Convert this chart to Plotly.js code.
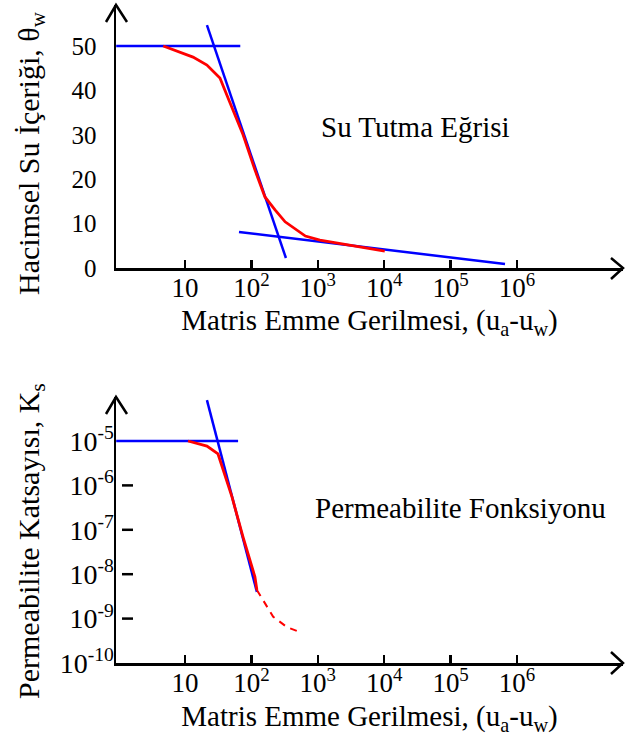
<!DOCTYPE html>
<html>
<head>
<meta charset="utf-8">
<script src="https://cdn.plot.ly/plotly-3.0.1.min.js"></script>
<style>html,body{margin:0;padding:0;background:#fff}#chart{width:625px;height:736px}</style>
</head>
<body>
<div id="chart"></div>
<script>
// ---- Data ----
// Top panel: Su Tutma Eğrisi (water retention curve)
const swccSuction = [4.7, 13.2, 21.4, 33.6, 47.6, 74.9, 113, 160, 227, 322, 650, 1075, 10200];
const swccTheta   = [50, 47.5, 45.7, 42.8, 37.2, 30.0, 22.1, 16.0, 13.1, 10.4, 7.2, 6.3, 3.8];
const swccFlatX   = [0.92, 68];
const swccFlatY   = [50, 50];
const swccSteepX  = [21.4, 331];
const swccSteepY  = [54.7, 2.25];
const swccResX    = [65, 660000];
const swccResY    = [8.1, 0.9];

// Bottom panel: Permeabilite Fonksiyonu
const permSuction     = [11.1, 21.4, 31.4, 51, 74.7, 113, 121];
const permK           = [1e-5, 7.7e-6, 5.1e-6, 5.5e-7, 6.9e-8, 8.7e-9, 4.4e-9];
const permDashSuction = [121, 135, 213, 345, 576];
const permDashK       = [4.4e-9, 3.4e-9, 1.1e-9, 6.4e-10, 4.8e-10];
const permFlatX       = [0.92, 63];
const permFlatY       = [1e-5, 1e-5];
const permSteepX      = [21.4, 121];
const permSteepY      = [8.3e-5, 4.0e-9];

// Tick labels
const xTickVals  = [10, 100, 1000, 10000, 100000, 1000000];
const xTickText  = ['10', '10<sup>2</sup>', '10<sup>3</sup>', '10<sup>4</sup>', '10<sup>5</sup>', '10<sup>6</sup>'];
const thetaTicks = [0, 10, 20, 30, 40, 50];
const kTickVals  = [1e-10, 1e-9, 1e-8, 1e-7, 1e-6, 1e-5];
const kTickText  = ['10<sup>-10</sup>', '10<sup>-9</sup>', '10<sup>-8</sup>', '10<sup>-7</sup>', '10<sup>-6</sup>', '10<sup>-5</sup>'];
const kDashTicks = [1e-9, 1e-8, 1e-7, 1e-6];

// ---- Styling ----
const W = 625, H = 736;
const FONT = 'Liberation Serif, Times New Roman, serif';
const RED = '#ff0000', BLUE = '#0000ff';
const px = v => v / W, py = v => 1 - v / H;

const traces = [
  {x: swccFlatX, y: swccFlatY, xaxis: 'x', yaxis: 'y', mode: 'lines', line: {color: BLUE, width: 2.5}},
  {x: swccSteepX, y: swccSteepY, xaxis: 'x', yaxis: 'y', mode: 'lines', line: {color: BLUE, width: 2.5}},
  {x: swccResX, y: swccResY, xaxis: 'x', yaxis: 'y', mode: 'lines', line: {color: BLUE, width: 2.5}},
  {x: swccSuction, y: swccTheta, xaxis: 'x', yaxis: 'y', mode: 'lines', line: {color: RED, width: 2.8}},
  {x: permFlatX, y: permFlatY, xaxis: 'x2', yaxis: 'y2', mode: 'lines', line: {color: BLUE, width: 2.5}},
  {x: permSteepX, y: permSteepY, xaxis: 'x2', yaxis: 'y2', mode: 'lines', line: {color: BLUE, width: 2.5}},
  {x: permSuction, y: permK, xaxis: 'x2', yaxis: 'y2', mode: 'lines', line: {color: RED, width: 2.8}},
  {x: permDashSuction, y: permDashK, xaxis: 'x2', yaxis: 'y2', mode: 'lines', line: {color: RED, width: 2, dash: '7px,6px'}}
];

const xDomain = [px(116), px(623)];
const xRange = [(116 - 185) / 66.4 + 1, (623 - 185) / 66.4 + 1];

function xAxis(anchor, titleStandoff) {
  return {
    type: 'log', domain: xDomain, range: xRange, anchor: anchor,
    showgrid: false, zeroline: false, showline: true, linecolor: '#000', linewidth: 2.5,
    ticks: 'inside', ticklen: 8, tickwidth: 2.5, tickcolor: '#000',
    tickvals: xTickVals, ticktext: xTickText,
    tickfont: {family: FONT, size: 27, color: '#000'}, ticklabelstandoff: -6,
    title: {text: 'Matris Emme Gerilmesi, (u<sub>a</sub>-u<sub>w</sub>)', font: {family: FONT, size: 29, color: '#000'}, standoff: titleStandoff},
    fixedrange: true
  };
}

const layout = {
  width: W, height: H, margin: {l: 0, r: 0, t: 0, b: 0},
  paper_bgcolor: '#fff', plot_bgcolor: 'rgba(0,0,0,0)',
  showlegend: false,
  xaxis: xAxis('y', 8),
  xaxis2: xAxis('y2', 11),
  yaxis: {
    domain: [py(268), py(5)], range: [0, (268 - 5) / 4.44], anchor: 'x',
    showgrid: false, zeroline: false, showline: true, linecolor: '#000', linewidth: 2.5,
    ticks: '', tickvals: thetaTicks, ticktext: thetaTicks.map(String),
    tickfont: {family: FONT, size: 25, color: '#000'}, ticklabelstandoff: 12,
    fixedrange: true
  },
  yaxis2: {
    type: 'log', domain: [py(663), py(397)], range: [-10, -10 + (663 - 397) / 44.4], anchor: 'x2',
    showgrid: false, zeroline: false, showline: true, linecolor: '#000', linewidth: 2.5,
    ticks: '', tickvals: kTickVals, ticktext: kTickText,
    tickfont: {family: FONT, size: 28, color: '#000'}, ticklabelstandoff: -6,
    fixedrange: true
  },
  annotations: [
    {text: 'Hacimsel Su İçeriği, θ<sub>w</sub>', xref: 'paper', yref: 'paper', x: px(31), y: py(153),
     xanchor: 'center', yanchor: 'middle', textangle: -90, showarrow: false,
     font: {family: FONT, size: 30, color: '#000'}},
    {text: 'Permeabilite Katsayısı, K<sub>s</sub>', xref: 'paper', yref: 'paper', x: px(31), y: py(541),
     xanchor: 'center', yanchor: 'middle', textangle: -90, showarrow: false,
     font: {family: FONT, size: 30, color: '#000'}},
    {text: 'Su Tutma Eğrisi', xref: 'paper', yref: 'paper', x: px(415), y: py(127),
     xanchor: 'center', yanchor: 'middle', showarrow: false,
     font: {family: FONT, size: 29, color: '#000'}},
    {text: 'Permeabilite Fonksiyonu', xref: 'paper', yref: 'paper', x: px(460), y: py(508),
     xanchor: 'center', yanchor: 'middle', showarrow: false,
     font: {family: FONT, size: 29, color: '#000'}}
  ],
  shapes: []
};

// Arrowheads on axis ends
const arrows = [
  [[106, 22], [116, 5], [127, 22]],
  [[611, 258], [623, 268], [611, 279]],
  [[106, 414], [116, 397], [127, 414]],
  [[611, 652], [623, 663], [611, 674]]
];
arrows.forEach(a => {
  layout.shapes.push({
    type: 'path', xref: 'paper', yref: 'paper',
    path: 'M' + a.map(p => px(p[0]) + ',' + py(p[1])).join(' L'),
    line: {color: '#000', width: 2.5}
  });
});
// Short dash marks on the permeability axis
kDashTicks.forEach(v => {
  layout.shapes.push({
    type: 'line', xref: 'paper', yref: 'y2', x0: px(122), x1: px(133), y0: v, y1: v,
    line: {color: '#000', width: 2.5}
  });
});

Plotly.newPlot('chart', traces, layout, {staticPlot: true, displayModeBar: false});
</script>
</body>
</html>
